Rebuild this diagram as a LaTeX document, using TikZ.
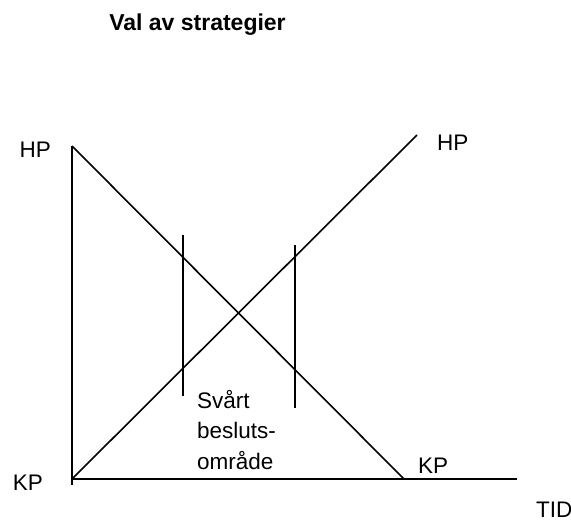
\documentclass[tikz,border=0pt]{standalone}
\usepackage{fontspec}
\setmainfont{Liberation Sans}
\begin{document}
\begin{tikzpicture}[x=1pt,y=-1pt,
  ln/.style={line width=1.6pt, line cap=butt},
  lbl/.style={inner sep=0pt, font=\fontsize{22.5}{31}\selectfont},
  ttl/.style={inner sep=0pt, font=\fontsize{23}{28}\selectfont\bfseries}]
\useasboundingbox (0,0) rectangle (571,520);
% coordinates
\coordinate (O) at (72,479);
\coordinate (Ytop) at (72,146);
\coordinate (Ybot) at (72,485);
\coordinate (Xend) at (517,479);
\coordinate (Dend) at (404,479);
\coordinate (Aend) at (417,135);
\coordinate (V1t) at (183,235);
\coordinate (V1b) at (183,396);
\coordinate (V2t) at (295,245);
\coordinate (V2b) at (295,408);
% axes
\draw[ln] (Ytop) -- (Ybot);
\draw[ln] (O) -- (Xend);
% diagonals
\draw[ln] (Ytop) -- (Dend);
\draw[ln] (O) -- (Aend);
% verticals
\draw[ln] (V1t) -- (V1b);
\draw[ln] (V2t) -- (V2b);
% labels
\node[ttl, anchor=base] (title) at (197.5,30) {Val av strategier};
\node[lbl, anchor=east] (hpl) at (51,150) {HP};
\node[lbl, anchor=west] (hpr) at (437,143) {HP};
\node[lbl, anchor=east] (kpl) at (43,483) {KP};
\node[lbl, anchor=west] (kpr) at (418,466) {KP};
\node[lbl, anchor=base west] (tid) at (536,517) {TID};
\node[lbl, anchor=base west] (area1) at (197,408) {Svårt};
\node[lbl, anchor=base west] (area2) at (197,438) {besluts-};
\node[lbl, anchor=base west] (area3) at (197,469) {område};
\end{tikzpicture}
\end{document}
